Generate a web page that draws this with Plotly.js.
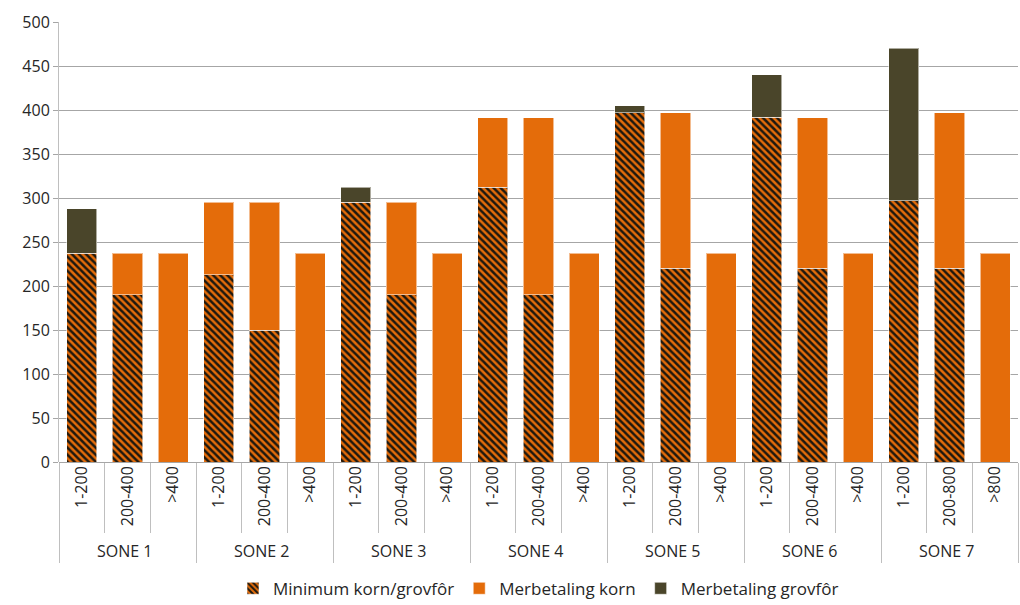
<!DOCTYPE html>
<html>
<head>
<meta charset="utf-8">
<script src="https://cdn.plot.ly/plotly-3.0.1.min.js"></script>
<style>html,body{margin:0;padding:0;background:#fff;}#chart{width:1020px;height:605px;}</style>
</head>
<body>
<div id="chart"></div>
<script>
const zones = ["SONE 1","SONE 1","SONE 1","SONE 2","SONE 2","SONE 2","SONE 3","SONE 3","SONE 3","SONE 4","SONE 4","SONE 4","SONE 5","SONE 5","SONE 5","SONE 6","SONE 6","SONE 6","SONE 7","SONE 7","SONE 7"];
const subs = ["1-200","200-400",">400","1-200","200-400",">400","1-200","200-400",">400","1-200","200-400",">400","1-200","200-400",">400","1-200","200-400",">400","1-200","200-800",">800"];
const minimumKorn = [237,190,null, 213,150,null, 295,190,null, 312,190,null, 397,220,null, 392,220,null, 297,220,null];
const merKorn = [null,47,237, 82,145,237, null,105,237, 79,201,237, null,177,237, null,171,237, null,177,237];
const merGrovfor = [51,null,null, null,null,null, 17,null,null, null,null,null, 8,null,null, 48,null,null, 173,null,null];

const orange = "#E46C0A";
const olive = "#4A452A";
const edge = {color: "rgba(255,255,255,0.55)", width: 1};
const x = [zones, subs];

const data = [
  {type: "bar", name: "Minimum korn/grovfôr", x: x, y: minimumKorn,
   marker: {color: orange, line: edge, pattern: {shape: "\\", fgcolor: "#1c1810", bgcolor: orange, size: 5, solidity: 0.5}}},
  {type: "bar", name: "Merbetaling korn", x: x, y: merKorn, marker: {color: orange, line: edge}},
  {type: "bar", name: "Merbetaling grovfôr", x: x, y: merGrovfor, marker: {color: olive, line: edge}}
];

const layout = {
  width: 1020, height: 605,
  margin: {l: 59, r: 2, t: 22, b: 143, autoexpand: false},
  barmode: "stack",
  bargap: 0.34,
  paper_bgcolor: "#fff", plot_bgcolor: "#fff",
  font: {family: "Open Sans, sans-serif", size: 15, color: "#262626"},
  showlegend: true,
  legend: {orientation: "h", x: 0.5, xanchor: "center", y: -0.288, yanchor: "middle",
           font: {size: 17, color: "#262626"}, traceorder: "normal", itemwidth: 30},
  xaxis: {type: "multicategory", automargin: false, tickangle: -90, tickfont: {size: 16},
          showline: false, ticks: "outside", tickson: "boundaries", ticklen: 70, tickcolor: "#bfbfbf",
          showdividers: true, dividercolor: "#bfbfbf", dividerwidth: 1, showgrid: false},
  yaxis: {automargin: false, range: [0, 500], dtick: 50, showgrid: true, gridcolor: "#a6a6a6", gridwidth: 1,
          showline: true, linecolor: "#bfbfbf", linewidth: 1, ticks: "outside", ticklen: 5, tickcolor: "#a6a6a6",
          zeroline: true, zerolinecolor: "#a6a6a6", tickfont: {size: 16}, fixedrange: true}
};

Plotly.newPlot("chart", data, layout, {displayModeBar: false, staticPlot: true});
</script>
</body>
</html>
